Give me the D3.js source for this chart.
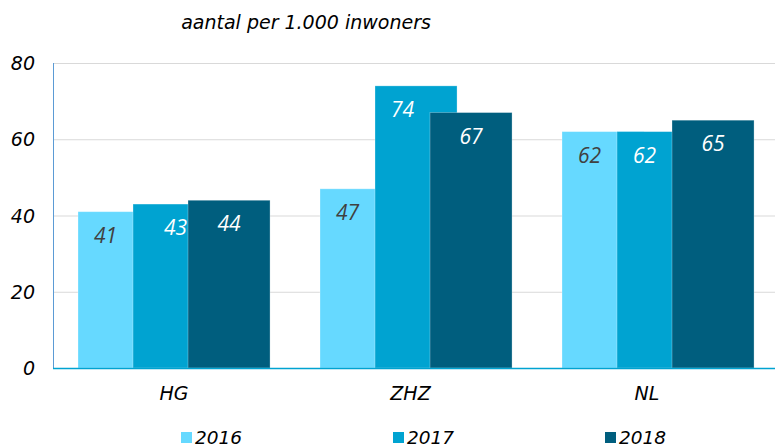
<!DOCTYPE html>
<meta charset="utf-8">
<html>
<head>
    <title>aantal per 1.000 inwoners</title>
    <script type="text/javascript" src="https://cdn.jsdelivr.net/npm/d3@7/dist/d3.min.js"></script>
    <style type="text/css">
    	html, body {
    		padding: 0px;
    		margin: 0px;
    		background: #fff;
    	}
    	text { font-style: italic; }
    </style>
</head>
<body>
	<svg id="svg"></svg>
	<script type="text/javascript">
		// data
		var categories = ["HG", "ZHZ", "NL"]
		var years = ["2016", "2017", "2018"]
		var values2016 = [41, 47, 62]
		var values2017 = [43, 74, 62]
		var values2018 = [44, 67, 65]
		var yTicks = [0, 20, 40, 60, 80]

		var series = [values2016, values2017, values2018]
		var colors = ["#66d9ff", "#00a3d1", "#005e7e"]
		var labelColors = ["#404040", "#ffffff", "#ffffff"]
		// bars overlap: each one starts a step after the previous one (fractions of the band)
		var barStart = 0.1033, barStep = 0.2273, barWide = 0.339
		// small manual label nudges (series, category) -> px
		var labelNudge = { "1-0": 15 }

		var width = 775, height = 448
		var svg = d3.select('#svg').attr('width', width).attr('height', height)

		var x = d3.scaleBand().domain(categories).range([53, 779]).padding(0)
		var xLabel = d3.scalePoint().domain(categories).range([174, 647])
		var y = d3.scaleLinear().domain([0, 80]).range([368, 63])

		// gridlines
		svg.append("g").selectAll("line")
		  .data(yTicks.filter(function (t) { return t > 0 }))
		  .enter().append("line")
		    .attr("x1", 53).attr("x2", 775)
		    .attr("y1", function (t) { return y(t) + 0.5 })
		    .attr("y2", function (t) { return y(t) + 0.5 })
		    .attr("stroke", "#d9d9d9").attr("stroke-width", 1)

		// y tick labels
		svg.append("g").selectAll("text")
		  .data(yTicks)
		  .enter().append("text")
		    .attr("x", 35)
		    .attr("y", function (t) { return y(t) + 7 })
		    .attr("text-anchor", "end")
		    .attr("font-family", "DejaVu Sans")
		    .attr("font-size", 19)
		    .attr("fill", "#000")
		    .text(function (t) { return t })

		// bars, drawn in order so later years cover earlier ones
		series.forEach(function (vals, s) {
		  var g = svg.append("g")
		  g.selectAll("rect")
		    .data(vals)
		    .enter().append("rect")
		      .attr("x", function (v, i) { return x(categories[i]) + x.bandwidth() * (barStart + barStep * s) })
		      .attr("width", x.bandwidth() * barWide)
		      .attr("y", function (v) { return y(v) })
		      .attr("height", function (v) { return y(0) - y(v) })
		      .attr("fill", colors[s])
		      .attr("stroke", "rgba(255,255,255,0.35)")
		      .attr("stroke-width", 0.8)
		})
		series.forEach(function (vals, s) {
		  var visible = s < 2 ? barStep : barWide
		  svg.append("g").selectAll("text")
		    .data(vals)
		    .enter().append("text")
		      .attr("x", function (v, i) {
		        return x(categories[i]) + x.bandwidth() * (barStart + barStep * s + visible / 2) + (labelNudge[s + "-" + i] || 0)
		      })
		      .attr("y", function (v) { return y(v) + 31 })
		      .attr("text-anchor", "middle")
		      .attr("font-family", "Open Sans")
		      .attr("font-size", 21)
		      .attr("fill", labelColors[s])
		      .text(function (v) { return v })
		})

		// axes lines
		svg.append("line")
		  .attr("x1", 53.5).attr("x2", 53.5).attr("y1", y(80)).attr("y2", y(0))
		  .attr("stroke", "#5b9bd5").attr("stroke-width", 1)
		svg.append("line")
		  .attr("x1", 53).attr("x2", 775).attr("y1", y(0) + 0.5).attr("y2", y(0) + 0.5)
		  .attr("stroke", "#00a3d1").attr("stroke-width", 1.5)

		// category labels
		svg.append("g").selectAll("text")
		  .data(categories)
		  .enter().append("text")
		    .attr("x", function (c) { return xLabel(c) })
		    .attr("y", 400)
		    .attr("text-anchor", "middle")
		    .attr("font-family", "DejaVu Sans")
		    .attr("font-size", 19)
		    .attr("fill", "#000")
		    .text(function (c) { return c })

		// title
		svg.append("text")
		  .attr("x", 306).attr("y", 29)
		  .attr("text-anchor", "middle")
		  .attr("font-family", "DejaVu Sans")
		  .attr("font-size", 19)
		  .attr("fill", "#000")
		  .text("aantal per 1.000 inwoners")

		// legend
		var legendX = [181, 393, 605]
		var legend = svg.append("g").selectAll("g")
		  .data(years)
		  .enter().append("g")
		    .attr("transform", function (d, i) { return "translate(" + legendX[i] + ",432)" })
		legend.append("rect")
		  .attr("width", 11).attr("height", 11)
		  .attr("fill", function (d, i) { return colors[i] })
		legend.append("text")
		  .attr("x", 14).attr("y", 12)
		  .attr("font-family", "DejaVu Sans")
		  .attr("font-size", 18.5)
		  .attr("fill", "#000")
		  .text(function (d) { return d })
	</script>
</body>
</html>
